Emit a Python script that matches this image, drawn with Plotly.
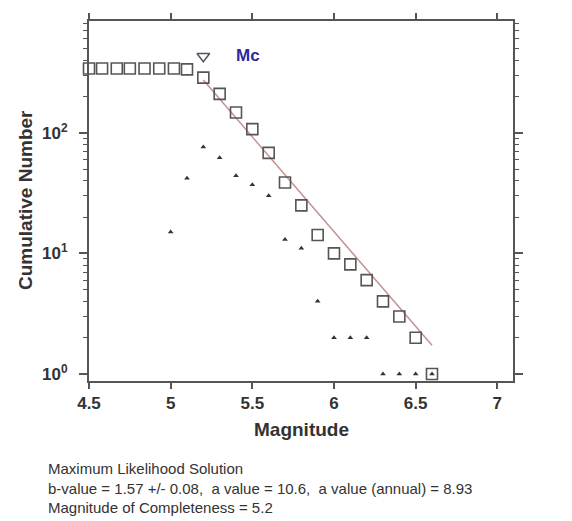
import plotly.graph_objects as go

# Cumulative number (open squares)
cum_mag = [4.5, 4.58, 4.67, 4.75, 4.84, 4.93, 5.02, 5.10, 5.2, 5.3, 5.4, 5.5, 5.6,
           5.7, 5.8, 5.9, 6.0, 6.1, 6.2, 6.3, 6.4, 6.5, 6.6]
cum_num = [341, 341, 341, 341, 341, 341, 341, 335, 286, 210, 147, 107, 68,
           38.7, 25, 14.2, 10, 8.1, 6, 4, 3, 2, 1]

# Non-cumulative number (small filled triangles)
inc_mag = [5.0, 5.1, 5.2, 5.3, 5.4, 5.5, 5.6, 5.7, 5.8, 5.9, 6.0, 6.1, 6.2, 6.3, 6.4, 6.5, 6.6]
inc_num = [15, 42, 76, 62, 44, 37, 30, 13, 11, 4, 2, 2, 2, 1, 1, 1, 1]

# Fitted line end points (Maximum likelihood, a=10.6, b=1.57)
fit_mag = [5.2, 6.6]
fit_num = [273, 1.73]

# Mc marker
mc_mag = [5.2]
mc_num = [430]

x_ticks = [4.5, 5, 5.5, 6, 6.5, 7]
x_ticktext = ["4.5", "5", "5.5", "6", "6.5", "7"]
y_ticks = [1, 10, 100]
y_ticktext = ["10<sup>0</sup>", "10<sup>1</sup>", "10<sup>2</sup>"]
y_minor = [2, 3, 4, 5, 6, 7, 8, 9, 20, 30, 40, 50, 60, 70, 80, 90,
           200, 300, 400, 500, 600, 700, 800]

info_lines = [
    "Maximum Likelihood Solution",
    "b-value = 1.57 +/- 0.08,  a value = 10.6,  a value (annual) = 8.93",
    "Magnitude of Completeness = 5.2",
]

FONT = "Liberation Sans, Arial, sans-serif"
AX = "#555555"

# page body has an 8px offset; plot area target: x 89..513, y 21..381
PLOT_TOP, PLOT_BOTTOM, PLOT_LEFT, PLOT_RIGHT = 21, 381, 89, 513
OFF = 8
PH = PLOT_BOTTOM - PLOT_TOP
PW = PLOT_RIGHT - PLOT_LEFT

fig = go.Figure()
fig.add_trace(go.Scatter(x=fit_mag, y=fit_num, mode="lines",
                         line=dict(color="#c49090", width=1.5), showlegend=False))
fig.add_trace(go.Scatter(x=cum_mag, y=cum_num, mode="markers", cliponaxis=False,
                         marker=dict(symbol="square-open", size=11,
                                     line=dict(color="#555555", width=1.6),
                                     color="#555555"),
                         showlegend=False))
fig.add_trace(go.Scatter(x=inc_mag, y=inc_num, mode="markers", cliponaxis=False,
                         marker=dict(symbol="triangle-up", size=5, color="#333333"),
                         showlegend=False))
fig.add_trace(go.Scatter(x=mc_mag, y=mc_num, mode="markers",
                         marker=dict(symbol="triangle-down-open", size=11,
                                     line=dict(color="#555566", width=1.5),
                                     color="#555566"),
                         showlegend=False))

fig.update_layout(
    width=572, height=521,
    margin=dict(l=PLOT_LEFT - OFF, r=572 - PLOT_RIGHT + OFF, t=PLOT_TOP - OFF,
                b=521 - PLOT_BOTTOM + OFF, autoexpand=False),
    paper_bgcolor="white", plot_bgcolor="white",
    font=dict(family=FONT, color="#333333"),
    xaxis=dict(range=[4.5, 7.096], tickmode="array", tickvals=x_ticks,
               ticktext=x_ticktext, ticks="outside", ticklen=6, tickwidth=1.5,
               tickcolor=AX, showline=True, linecolor=AX, linewidth=2,
               mirror="allticks", showgrid=False, zeroline=False,
               tickfont=dict(size=17, weight="bold", color="#333333")),
    yaxis=dict(type="log", range=[-0.058, 2.926], tickmode="array",
               tickvals=y_ticks, ticktext=y_ticktext, ticks="outside",
               ticklen=8, tickwidth=1.5, tickcolor=AX, showline=True,
               linecolor=AX, linewidth=2, mirror="allticks", showgrid=False,
               zeroline=False, ticklabelstandoff=8,
               tickfont=dict(size=17, weight="bold", color="#333333"),
               minor=dict(tickmode="array", tickvals=y_minor, ticks="outside",
                          ticklen=4, tickwidth=1, tickcolor=AX, showgrid=False)),
)

fig.add_annotation(x=5.474, y=2.636, xref="x", yref="y", text="<b>Mc</b>",
                   showarrow=False, font=dict(size=17, color="#2a2aa0", family=FONT))

fig.add_annotation(x=0.5, y=-(429 - PLOT_BOTTOM) / PH, xref="paper", yref="paper",
                   text="<b>Magnitude</b>", showarrow=False, yanchor="middle",
                   font=dict(size=19, color="#333333", family=FONT))
fig.add_annotation(x=(25 - PLOT_LEFT) / PW, y=(PLOT_BOTTOM - 200) / PH,
                   xref="paper", yref="paper",
                   text="<b>Cumulative Number</b>", showarrow=False, textangle=-90,
                   xanchor="center", yanchor="middle",
                   font=dict(size=19, color="#333333", family=FONT))

for line, ypix in zip(info_lines, [468.5, 488, 507.5]):
    fig.add_annotation(x=(47 - PLOT_LEFT) / PW, y=-(ypix - PLOT_BOTTOM) / PH,
                       xref="paper", yref="paper", text=line, showarrow=False,
                       xanchor="left", yanchor="middle", borderpad=0,
                       font=dict(size=15, color="#333333", family=FONT))

fig.write_html("out.html")
